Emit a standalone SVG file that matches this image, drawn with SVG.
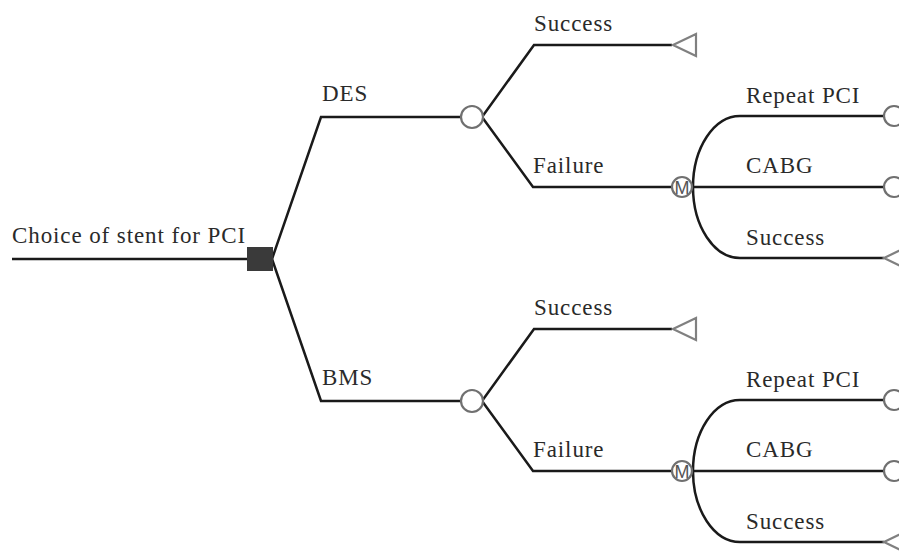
<svg xmlns="http://www.w3.org/2000/svg" width="899" height="551" viewBox="0 0 899 551">
<style>
.ln{fill:none;stroke:#1a1a1a;stroke-width:2.5;stroke-linejoin:miter}
.ch{fill:#fff;stroke:#707070;stroke-width:2.2}
.tr{fill:#fff;stroke:#808080;stroke-width:2.2;stroke-linejoin:miter}
.t{font-family:"Liberation Serif","Times New Roman",serif;font-size:23px;letter-spacing:0.9px;fill:#2a2a2a}
.m{font-family:"Liberation Sans",Arial,sans-serif;font-size:18px;fill:#555;text-anchor:middle}
</style>
<rect width="899" height="551" fill="#fff"/>
<g id="connectors">
<path class="ln" d="M12,259 H250"/>
<path class="ln" d="M272,259 L321,117 H461"/>
<path class="ln" d="M272,259 L321,401 H461"/>
<path class="ln" d="M482,117 L534,45 H672"/>
<path class="ln" d="M482,117 L533,187 H672"/>
<path class="ln" d="M482,401 L534,329 H672"/>
<path class="ln" d="M482,401 L533,471 H672"/>
<path class="ln" d="M692,187 H883"/>
<path class="ln" d="M740,116 A47,71 0 0 0 693,187 A47,71 0 0 0 740,258"/>
<path class="ln" d="M740,116 H883 M740,258 H884"/>
<path class="ln" d="M692,471 H883"/>
<path class="ln" d="M740,400 A47,71 0 0 0 693,471 A47,71 0 0 0 740,542"/>
<path class="ln" d="M740,400 H883 M740,542 H884"/>
</g>
<g id="decision"><rect x="247" y="247" width="26" height="24" fill="#3a3a3a"/></g>
<g id="root-label"><text class="t" x="12" y="243">Choice of stent for PCI</text></g>
<g id="des"><text class="t" x="322" y="101">DES</text><circle class="ch" cx="472" cy="117" r="11"/></g>
<g id="bms"><text class="t" x="322" y="385">BMS</text><circle class="ch" cx="472" cy="401" r="11"/></g>
<g id="des-success"><text class="t" x="534" y="31">Success</text><path class="tr" d="M673,45 L696,34 V56 Z"/></g>
<g id="bms-success"><text class="t" x="534" y="315">Success</text><path class="tr" d="M673,329 L696,318 V340 Z"/></g>
<g id="des-failure"><text class="t" x="533" y="173">Failure</text><circle class="ch" cx="682" cy="187" r="10"/><text class="m" x="682" y="193.5">M</text></g>
<g id="bms-failure"><text class="t" x="533" y="457">Failure</text><circle class="ch" cx="682" cy="471" r="10"/><text class="m" x="682" y="477.5">M</text></g>
<g id="des-repeat"><text class="t" x="746" y="103">Repeat PCI</text><circle class="ch" cx="894" cy="116" r="10"/></g>
<g id="des-cabg"><text class="t" x="746" y="173">CABG</text><circle class="ch" cx="894" cy="187" r="10"/></g>
<g id="des-success2"><text class="t" x="746" y="245">Success</text><path class="tr" d="M884,258 L907,247 V269 Z"/></g>
<g id="bms-repeat"><text class="t" x="746" y="387">Repeat PCI</text><circle class="ch" cx="894" cy="400" r="10"/></g>
<g id="bms-cabg"><text class="t" x="746" y="457">CABG</text><circle class="ch" cx="894" cy="471" r="10"/></g>
<g id="bms-success2"><text class="t" x="746" y="529">Success</text><path class="tr" d="M884,542 L907,531 V553 Z"/></g>
</svg>
